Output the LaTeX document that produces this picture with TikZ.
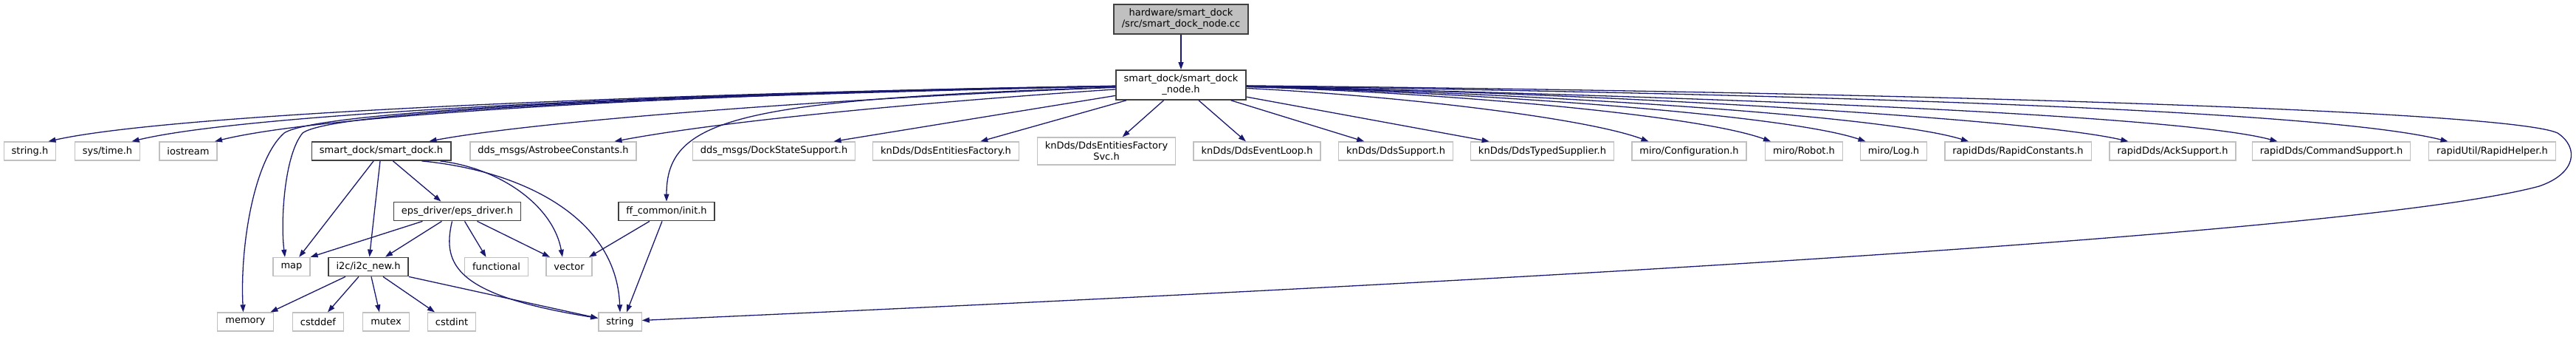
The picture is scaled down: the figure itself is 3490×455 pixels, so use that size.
\documentclass[tikz,border=0pt]{standalone}
\usepackage{fontspec}
\setmainfont{DejaVu Sans}
\usetikzlibrary{arrows.meta}
\definecolor{edgeblue}{HTML}{191970}
\definecolor{leafgray}{HTML}{C0C0C0}
\begin{document}
\begin{tikzpicture}[x=1pt, y=-1pt,
  box/.style={rectangle, fill=white, font=\fontsize{13}{15}\selectfont, align=center,
    inner xsep=10.5pt, inner ysep=6pt, minimum height=25pt},
  inc/.style={box, draw=leafgray, line width=1.3pt},
  doc/.style={box, draw=black!75, line width=1.8pt},
  cur/.style={doc, fill=leafgray},
  dep/.style={draw=edgeblue, line width=1.3pt, -{Triangle[length=10pt,width=7pt]}}
  ]
\useasboundingbox (0,0) rectangle (3490,455);
% source file and its header
\node[cur] (src) at (1600,26) {hardware/smart\_dock\\/src/smart\_dock\_node.cc};
\node[doc] (nodeh) at (1600,115) {smart\_dock/smart\_dock\\\_node.h};
% row 1
\node[inc] (stringh) at (40.5,204.5) {string.h};
\node[inc] (systime) at (145.5,204.5) {sys/time.h};
\node[inc] (iostream) at (255,204.5) {iostream};
\node[doc] (smartdock) at (516.5,204.5) {smart\_dock/smart\_dock.h};
\node[inc] (astrobee) at (749.5,204.5) {dds\_msgs/AstrobeeConstants.h};
\node[inc] (dockstate) at (1048.5,204.5) {dds\_msgs/DockStateSupport.h};
\node[inc] (entfac) at (1281.5,204.5) {knDds/DdsEntitiesFactory.h};
\node[inc] (entsvc) at (1499,204.5) {knDds/DdsEntitiesFactory\\Svc.h};
\node[inc] (evloop) at (1703,204.5) {knDds/DdsEventLoop.h};
\node[inc] (ddssup) at (1891,204.5) {knDds/DdsSupport.h};
\node[inc] (typedsup) at (2089.5,204.5) {knDds/DdsTypedSupplier.h};
\node[inc] (config) at (2288.5,204.5) {miro/Configuration.h};
\node[inc] (robot) at (2444,204.5) {miro/Robot.h};
\node[inc] (mlog) at (2565.5,204.5) {miro/Log.h};
\node[inc] (rapidconst) at (2734,204.5) {rapidDds/RapidConstants.h};
\node[inc] (acksup) at (2943.5,204.5) {rapidDds/AckSupport.h};
\node[inc] (cmdsup) at (3158.5,204.5) {rapidDds/CommandSupport.h};
\node[inc] (helper) at (3376.5,204.5) {rapidUtil/RapidHelper.h};
% row 2
\node[doc] (epsdrv) at (619.5,286) {eps\_driver/eps\_driver.h};
\node[doc] (ffinit) at (903,286) {ff\_common/init.h};
% row 3
\node[inc] (map) at (395,361) {map};
\node[doc] (i2c) at (499,361) {i2c/i2c\_new.h};
\node[inc] (functional) at (672.5,361) {functional};
\node[inc] (vector) at (771,361) {vector};
% row 4
\node[inc] (memory) at (332.5,435.5) {memory};
\node[inc] (cstddef) at (431,435.5) {cstddef};
\node[inc] (mutex) at (523,435.5) {mutex};
\node[inc] (cstdint) at (612,435.5) {cstdint};
\node[inc] (string) at (840,435.5) {string};
% source file
\draw[dep] (src) -- (nodeh);
% smart_dock_node.h, left side
\draw[dep] (nodeh) .. controls (1000,124) and (250,150) .. ([xshift=25]stringh.north);
\draw[dep] (nodeh) .. controls (1000,124) and (350,150) .. ([xshift=33]systime.north);
\draw[dep] (nodeh) .. controls (1000,125) and (450,152) .. ([xshift=36]iostream.north);
\draw[dep] (nodeh) .. controls (900,128) and (430,150) .. (385,180)
  .. controls (345,215) and (325,330) .. ([xshift=-3]memory.north);
\draw[dep] (nodeh) .. controls (900,130) and (450,150) .. (410,180)
  .. controls (385,210) and (380,300) .. ([xshift=-9]map.north);
\draw[dep] (nodeh) .. controls (1200,130) and (750,160) .. ([xshift=65]smartdock.north);
\draw[dep] (nodeh) .. controls (1300,135) and (1000,160) .. ([xshift=83]astrobee.north);
\draw[dep] (nodeh) -- (dockstate);
\draw[dep] (nodeh) .. controls (1000,135) and (903,160) .. (ffinit);
\draw[dep] (nodeh) -- (entfac);
\draw[dep] (nodeh) -- (entsvc);
% smart_dock_node.h, right side
\draw[dep] (nodeh) -- (evloop);
\draw[dep] (nodeh) -- (ddssup);
\draw[dep] (nodeh) -- (typedsup);
\draw[dep] (nodeh) .. controls (1900,130) and (2150,160) .. ([xshift=-55]config.north);
\draw[dep] (nodeh) .. controls (1950,125) and (2300,155) .. ([xshift=-45]robot.north);
\draw[dep] (nodeh) .. controls (2000,125) and (2420,155) .. ([xshift=-38]mlog.north);
\draw[dep] (nodeh) .. controls (2050,125) and (2550,155) .. ([xshift=-67]rapidconst.north);
\draw[dep] (nodeh) .. controls (2150,125) and (2750,160) .. ([xshift=-60]acksup.north);
\draw[dep] (nodeh) .. controls (2300,130) and (2950,155) .. ([xshift=-73]cmdsup.north);
\draw[dep] (nodeh) .. controls (2500,128) and (3150,150) .. ([xshift=-60]helper.north);
\draw[dep] (nodeh) .. controls (2600,125) and (3400,150) .. (3465,180)
  .. controls (3495,200) and (3490,235) .. (3440,252)
  .. controls (3150,330) and (1500,405) .. ([yshift=2]string.east);
% smart_dock.h
\draw[dep] (smartdock) -- (map);
\draw[dep] (smartdock) -- (i2c);
\draw[dep] ([xshift=16]smartdock.south) -- ([xshift=-22]epsdrv.north);
\draw[dep] ([xshift=80]smartdock.south) .. controls (680,228) and (750,280) .. ([xshift=-9]vector.north);
\draw[dep] ([xshift=55]smartdock.south) .. controls (700,230) and (835,290) .. (string.north);
% eps_driver.h
\draw[dep] ([xshift=-47]epsdrv.south) -- (map.north east);
\draw[dep] ([xshift=-21]epsdrv.south) -- ([xshift=23]i2c.north);
\draw[dep] ([xshift=10]epsdrv.south) -- ([xshift=-14]functional.north);
\draw[dep] ([xshift=27]epsdrv.south) -- ([xshift=-26]vector.north);
\draw[dep] ([xshift=-7]epsdrv.south) .. controls (598,360) and (620,400) .. ([yshift=5]string.west);
% init.h
\draw[dep] ([xshift=-23]ffinit.south) -- ([xshift=27]vector.north);
\draw[dep] ([xshift=-6]ffinit.south) -- ([xshift=9]string.north);
% i2c_new.h
\draw[dep] ([xshift=-31]i2c.south) -- ([xshift=34]memory.north);
\draw[dep] ([xshift=-13]i2c.south) -- ([xshift=13]cstddef.north);
\draw[dep] ([xshift=4]i2c.south) -- ([xshift=-9]mutex.north);
\draw[dep] ([xshift=20]i2c.south) -- ([xshift=-23]cstdint.north);
\draw[dep] (i2c.south east) -- ([yshift=5]string.west);
\end{tikzpicture}
\end{document}
